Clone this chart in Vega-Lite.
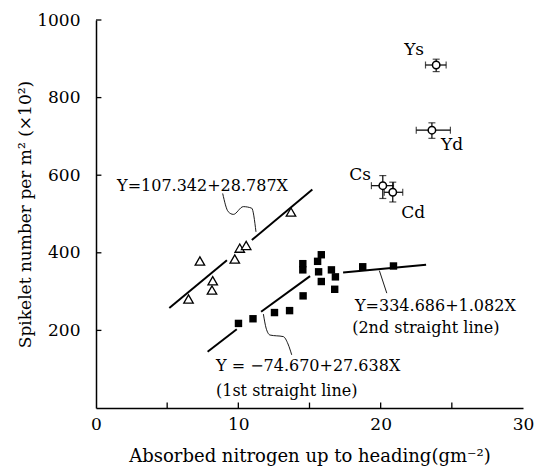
{
  "$schema": "https://vega.github.io/schema/vega-lite/v6.json",
  "width": 427,
  "height": 388,
  "autosize": "none",
  "padding": {"left": 96, "top": 20, "right": 18, "bottom": 62},
  "background": "white",
  "config": {
    "view": {"stroke": null},
    "axis": {
      "grid": false,
      "ticks": false,
      "domainColor": "black",
      "domainWidth": 1.5,
      "labelFont": "DejaVu Serif",
      "labelFontSize": 17,
      "labelColor": "black",
      "labelFlush": false,
      "labelOverlap": false,
      "titleFont": "DejaVu Serif",
      "titleFontSize": 17,
      "titleFontWeight": "normal",
      "titleColor": "black"
    }
  },
  "datasets": {
    "xticks": [{"v": 5}, {"v": 10}, {"v": 15}, {"v": 20}, {"v": 25}],
    "yticks": [{"v": 200}, {"v": 400}, {"v": 600}, {"v": 800}, {"v": 1000}],
    "fitlines": [
      {"seg": "t1a", "x": 5.15, "y": 258},
      {"seg": "t1a", "x": 9.2, "y": 381},
      {"seg": "t1b", "x": 10.95, "y": 433},
      {"seg": "t1b", "x": 15.2, "y": 563},
      {"seg": "s1a", "x": 7.84, "y": 145},
      {"seg": "s1a", "x": 9.89, "y": 203},
      {"seg": "s1b", "x": 11.6, "y": 248},
      {"seg": "s1b", "x": 15.04, "y": 340},
      {"seg": "s2", "x": 17.36, "y": 349},
      {"seg": "s2", "x": 23.19, "y": 369}
    ],
    "leaders": [
      {"seg": "la", "x": 8.9, "y": 553},
      {"seg": "la", "x": 9.29, "y": 506},
      {"seg": "la", "x": 9.65, "y": 499},
      {"seg": "la", "x": 10.35, "y": 519},
      {"seg": "la", "x": 10.94, "y": 515},
      {"seg": "la", "x": 11.24, "y": 454},
      {"seg": "lb", "x": 11.76, "y": 242},
      {"seg": "lb", "x": 11.95, "y": 206},
      {"seg": "lb", "x": 12.23, "y": 188},
      {"seg": "lb", "x": 13.16, "y": 184},
      {"seg": "lb", "x": 13.49, "y": 165},
      {"seg": "lb", "x": 13.75, "y": 137},
      {"seg": "lc", "x": 19.91, "y": 354},
      {"seg": "lc", "x": 20.43, "y": 296}
    ],
    "triangles": [
      {"x": 6.5, "y": 281},
      {"x": 7.3, "y": 379},
      {"x": 8.2, "y": 328},
      {"x": 8.15, "y": 304},
      {"x": 9.75, "y": 384},
      {"x": 10.1, "y": 412},
      {"x": 10.55, "y": 419},
      {"x": 13.7, "y": 505}
    ],
    "squares": [
      {"x": 10.01, "y": 218},
      {"x": 11.03, "y": 230},
      {"x": 12.54, "y": 246},
      {"x": 13.6, "y": 251},
      {"x": 14.55, "y": 289},
      {"x": 14.53, "y": 372},
      {"x": 14.53, "y": 356},
      {"x": 15.57, "y": 378},
      {"x": 15.83, "y": 395},
      {"x": 15.64, "y": 351},
      {"x": 15.83, "y": 326},
      {"x": 16.54, "y": 356},
      {"x": 16.82, "y": 338},
      {"x": 16.77, "y": 306},
      {"x": 18.74, "y": 364},
      {"x": 20.9, "y": 366}
    ],
    "circles": [
      {"name": "Ys", "x": 23.9, "y": 884, "xlo": 23.15, "xhi": 24.6, "ylo": 867, "yhi": 899},
      {"name": "Yd", "x": 23.6, "y": 716, "xlo": 22.5, "xhi": 24.9, "ylo": 695, "yhi": 735},
      {"name": "Cs", "x": 20.15, "y": 573, "xlo": 19.35, "xhi": 20.9, "ylo": 540, "yhi": 599},
      {"name": "Cd", "x": 20.85, "y": 556, "xlo": 20.25, "xhi": 21.55, "ylo": 531, "yhi": 582}
    ],
    "pointlabels": [
      {"x": 22.35, "y": 923, "text": "Ys"},
      {"x": 25.02, "y": 678, "text": "Yd"},
      {"x": 18.55, "y": 601, "text": "Cs"},
      {"x": 22.28, "y": 503, "text": "Cd"}
    ],
    "equations": [
      {"x": 1.48, "y": 572, "text": "Y=107.342+28.787X"},
      {"x": 18.2, "y": 263, "text": "Y=334.686+1.082X"},
      {"x": 18.0, "y": 206, "text": "(2nd straight line)"},
      {"x": 8.43, "y": 108, "text": "Y = −74.670+27.638X"},
      {"x": 8.43, "y": 44, "text": "(1st straight line)"}
    ]
  },
  "layer": [
    {
      "data": {"name": "fitlines"},
      "mark": {"type": "line", "color": "black", "strokeWidth": 2},
      "encoding": {
        "x": {
          "field": "x", "type": "quantitative",
          "title": "Absorbed nitrogen up to heading(gm⁻²)",
          "scale": {"domain": [0, 30], "nice": false, "zero": false},
          "axis": {
            "values": [0, 10, 20, 30],
            "labelPadding": 8,
            "titlePadding": 15,
            "titleFontSize": 18
          }
        },
        "y": {
          "field": "y", "type": "quantitative",
          "title": "Spikelet number per m² (×10²)",
          "scale": {"domain": [0, 1000], "nice": false, "zero": false},
          "axis": {
            "values": [200, 400, 600, 800, 1000],
            "format": "d",
            "labelPadding": 16,
            "titlePadding": 2
          }
        },
        "detail": {"field": "seg", "type": "nominal"}
      }
    },
    {
      "data": {"name": "xticks"},
      "mark": {"type": "rule", "color": "black", "strokeWidth": 1.3},
      "encoding": {
        "x": {"field": "v", "type": "quantitative", "title": "Absorbed nitrogen up to heading(gm⁻²)"},
        "y": {"datum": 0, "type": "quantitative"},
        "y2": {"datum": 14}
      }
    },
    {
      "data": {"name": "yticks"},
      "mark": {"type": "rule", "color": "black", "strokeWidth": 1.3},
      "encoding": {
        "y": {"field": "v", "type": "quantitative", "title": "Spikelet number per m² (×10²)"},
        "x": {"datum": 0, "type": "quantitative"},
        "x2": {"datum": 0.38}
      }
    },
    {
      "data": {"name": "leaders"},
      "mark": {"type": "line", "color": "black", "strokeWidth": 0.9, "interpolate": "monotone"},
      "encoding": {
        "x": {"field": "x", "type": "quantitative", "title": "Absorbed nitrogen up to heading(gm⁻²)"},
        "y": {"field": "y", "type": "quantitative", "title": "Spikelet number per m² (×10²)"},
        "detail": {"field": "seg", "type": "nominal"}
      }
    },
    {
      "data": {"name": "triangles"},
      "mark": {"type": "point", "shape": "triangle-up", "filled": true, "fill": "white", "stroke": "black", "strokeWidth": 1.3, "size": 90, "opacity": 1},
      "encoding": {
        "x": {"field": "x", "type": "quantitative", "title": "Absorbed nitrogen up to heading(gm⁻²)"},
        "y": {"field": "y", "type": "quantitative", "title": "Spikelet number per m² (×10²)"}
      }
    },
    {
      "data": {"name": "squares"},
      "mark": {"type": "square", "color": "black", "size": 55, "opacity": 1},
      "encoding": {
        "x": {"field": "x", "type": "quantitative", "title": "Absorbed nitrogen up to heading(gm⁻²)"},
        "y": {"field": "y", "type": "quantitative", "title": "Spikelet number per m² (×10²)"}
      }
    },
    {
      "data": {"name": "circles"},
      "mark": {"type": "errorbar", "ticks": {"size": 7, "thickness": 1.2, "color": "black"}, "rule": {"strokeWidth": 1.2, "color": "black"}},
      "encoding": {
        "x": {"field": "xlo", "type": "quantitative", "title": "Absorbed nitrogen up to heading(gm⁻²)"},
        "x2": {"field": "xhi"},
        "y": {"field": "y", "type": "quantitative", "title": "Spikelet number per m² (×10²)"}
      }
    },
    {
      "data": {"name": "circles"},
      "mark": {"type": "errorbar", "ticks": {"size": 7, "thickness": 1.2, "color": "black"}, "rule": {"strokeWidth": 1.2, "color": "black"}},
      "encoding": {
        "y": {"field": "ylo", "type": "quantitative", "title": "Spikelet number per m² (×10²)"},
        "y2": {"field": "yhi"},
        "x": {"field": "x", "type": "quantitative", "title": "Absorbed nitrogen up to heading(gm⁻²)"}
      }
    },
    {
      "data": {"name": "circles"},
      "mark": {"type": "point", "shape": "circle", "filled": true, "fill": "white", "stroke": "black", "strokeWidth": 1.5, "size": 55, "opacity": 1},
      "encoding": {
        "x": {"field": "x", "type": "quantitative", "title": "Absorbed nitrogen up to heading(gm⁻²)"},
        "y": {"field": "y", "type": "quantitative", "title": "Spikelet number per m² (×10²)"}
      }
    },
    {
      "data": {"name": "pointlabels"},
      "mark": {"type": "text", "font": "DejaVu Serif", "fontSize": 17, "color": "black", "align": "center", "baseline": "middle"},
      "encoding": {
        "x": {"field": "x", "type": "quantitative", "title": "Absorbed nitrogen up to heading(gm⁻²)"},
        "y": {"field": "y", "type": "quantitative", "title": "Spikelet number per m² (×10²)"},
        "text": {"field": "text"}
      }
    },
    {
      "data": {"name": "equations"},
      "mark": {"type": "text", "font": "DejaVu Serif", "fontSize": 16, "color": "black", "align": "left", "baseline": "middle"},
      "encoding": {
        "x": {"field": "x", "type": "quantitative", "title": "Absorbed nitrogen up to heading(gm⁻²)"},
        "y": {"field": "y", "type": "quantitative", "title": "Spikelet number per m² (×10²)"},
        "text": {"field": "text"}
      }
    }
  ]
}
